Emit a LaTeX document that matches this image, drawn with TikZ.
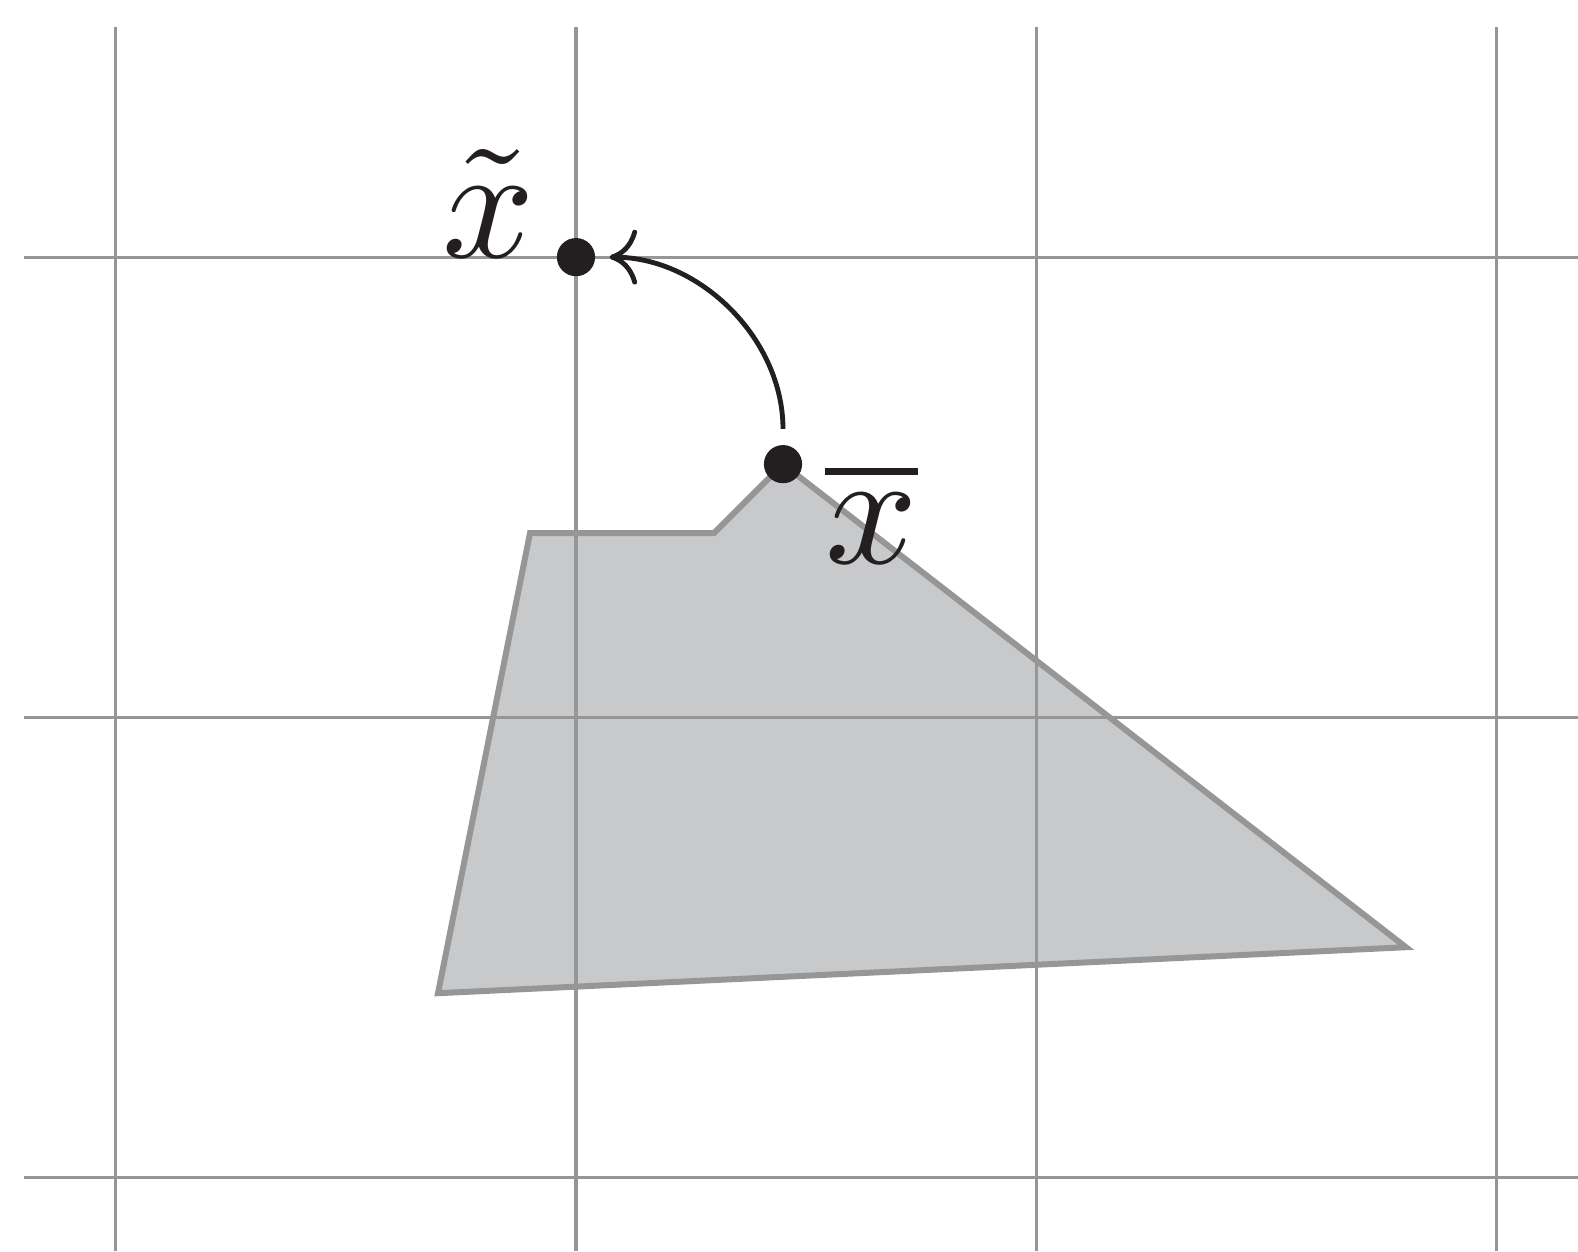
\documentclass[tikz,border=0pt]{standalone}
\usepackage{amsfonts,amsmath,amssymb}
\usepackage{tikz}
\usetikzlibrary{arrows.meta}
\definecolor{gridgray}{HTML}{969696}
\definecolor{regionfill}{HTML}{C8C9CB}
\definecolor{ink}{HTML}{231F20}
\tikzset{
  every picture/.style={line join=round, line cap=butt},
  gridline/.style={gridgray, line width=0.19pt},
  region/.style={gridgray, line width=0.37pt, line join=miter},
  dot/.style={circle, fill=ink, inner sep=0pt, minimum size=0.083cm},
}

\begin{document}
\begin{tikzpicture}
\useasboundingbox (-0.252,-0.161) rectangle (3.178,2.559);
\fill[regionfill](0.900,1.400)--(1.300,1.400)--(1.450,1.550)--(2.804,0.500)--(0.700,0.400)--cycle;
\foreach \x in {0,1,2,3} \draw[gridline](\x,-0.161)--(\x,2.500);
\foreach \y in {0,1,2} \draw[gridline](-0.200,\y)--(3.178,\y);
\draw[region](0.900,1.400)--(1.300,1.400)--(1.450,1.550)--(2.804,0.500)--(0.700,0.400)--cycle;
\node[dot] (xt) at (1.000,2.000) {};
\node[dot] (xb) at (1.450,1.550) {};
\node[anchor=base east,inner sep=0pt,xshift=-0.082cm,ink] at (xt) {$\tilde{x}$};
\node[anchor=base west,inner sep=0pt,xshift=0.085cm,yshift=-0.217cm,ink] at (xb) {$\overline{x}$};
\draw[ink,line width=0.3pt,-{Computer Modern Rightarrow[length=1.7pt,width=3.4pt]},shorten <=0.8pt,shorten >=0.7pt](xb.north) to[out=90,in=0] (xt.east);
\end{tikzpicture}
\end{document}
